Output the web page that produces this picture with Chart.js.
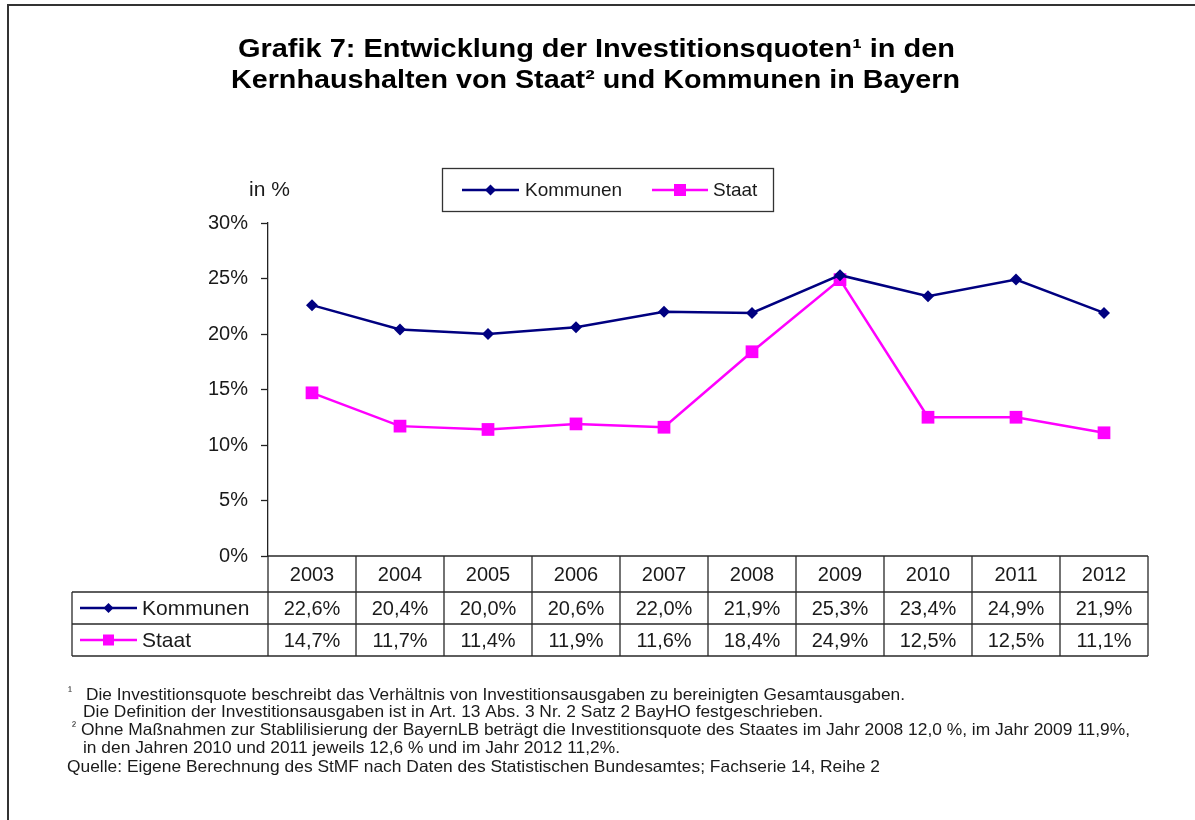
<!DOCTYPE html>
<html><head><meta charset="utf-8">
<script src="https://cdn.jsdelivr.net/npm/chart.js@4.4.1/dist/chart.umd.min.js"></script>
<style>html,body{margin:0;padding:0;background:#fff}canvas{display:block}</style>
</head><body>
<canvas id="c" width="1195" height="820"></canvas>
<script>
const years = ['2003','2004','2005','2006','2007','2008','2009','2010','2011','2012'];
const kommunen = [22.6,20.4,20.0,20.6,22.0,21.9,25.3,23.4,24.9,21.9];
const staat = [14.7,11.7,11.4,11.9,11.6,18.4,24.9,12.5,12.5,11.1];
const kommunenLabels = ['22,6%','20,4%','20,0%','20,6%','22,0%','21,9%','25,3%','23,4%','24,9%','21,9%'];
const staatLabels = ['14,7%','11,7%','11,4%','11,9%','11,6%','18,4%','24,9%','12,5%','12,5%','11,1%'];
const seriesNames = ['Kommunen','Staat'];
const titleLines = ['Grafik 7: Entwicklung der Investitionsquoten¹ in den','Kernhaushalten von Staat² und Kommunen in Bayern'];
const yUnit = 'in %';
const footnotes = [
  {t:'¹', x:68, y:695, w:null},
  {t:'Die Investitionsquote beschreibt das Verhältnis von Investitionsausgaben zu bereinigten Gesamtausgaben.', x:86, y:695, w:819},
  {t:'Die Definition der Investitionsausgaben ist in Art. 13 Abs. 3 Nr. 2 Satz 2 BayHO festgeschrieben.', x:83, y:712, w:740},
  {t:'²', x:72, y:730, w:null},
  {t:'Ohne Maßnahmen zur Stablilisierung der BayernLB beträgt die Investitionsquote des Staates im Jahr 2008 12,0 %, im Jahr 2009 11,9%,', x:81, y:730, w:1049},
  {t:'in den Jahren 2010 und 2011 jeweils 12,6 % und im Jahr 2012 11,2%.', x:83, y:748, w:537},
  {t:'Quelle: Eigene Berechnung des StMF nach Daten des Statistischen Bundesamtes; Fachserie 14, Reihe 2', x:67, y:767, w:813}
];

const NAVY = '#000080', MAG = '#FF00FF', TXT = '#1a1a1a', LINE = '#2a2a2a';
const FONT = '"Liberation Sans", Arial, sans-serif';

function fitText(ctx, text, x, y, w){
  const m = ctx.measureText(text).width;
  ctx.save();
  ctx.translate(x, y);
  if (w) ctx.scale(w / m, 1);
  ctx.fillText(text, 0, 0);
  ctx.restore();
}
function diamond(ctx, x, y, r, c){
  ctx.fillStyle = c; ctx.beginPath();
  ctx.moveTo(x, y - r); ctx.lineTo(x + r, y); ctx.lineTo(x, y + r); ctx.lineTo(x - r, y); ctx.closePath(); ctx.fill();
}
function square(ctx, x, y, s, c){ ctx.fillStyle = c; ctx.fillRect(x - s/2, y - s/2, s, s); }
function legendSample(ctx, x1, x2, y, idx, big){
  ctx.strokeStyle = idx === 0 ? NAVY : MAG; ctx.lineWidth = 2.5;
  ctx.beginPath(); ctx.moveTo(x1, y); ctx.lineTo(x2, y); ctx.stroke();
  const cx = (x1 + x2) / 2;
  if (idx === 0) diamond(ctx, cx, y, big ? 5.5 : 5, NAVY); else square(ctx, cx, y, big ? 12 : 11, MAG);
}

const decor = {
  id: 'decor',
  afterDraw(chart){
    const ctx = chart.ctx, xs = chart.scales.x, ys = chart.scales.y, ca = chart.chartArea;
    ctx.save();
    // frame
    ctx.strokeStyle = '#333'; ctx.lineWidth = 2;
    ctx.beginPath(); ctx.moveTo(8, 820); ctx.lineTo(8, 5); ctx.lineTo(1195, 5); ctx.stroke();
    // title
    ctx.fillStyle = '#000'; ctx.textBaseline = 'middle'; ctx.textAlign = 'left';
    ctx.font = 'bold 25px ' + FONT;
    fitText(ctx, titleLines[0], 238, 50, 717);
    fitText(ctx, titleLines[1], 231, 81, 729);
    // unit
    ctx.font = '21px ' + FONT; ctx.fillStyle = TXT;
    ctx.fillText(yUnit, 249, 190);
    // legend box
    ctx.strokeStyle = '#333'; ctx.lineWidth = 1.3;
    ctx.strokeRect(442.5, 168.5, 331, 43);
    legendSample(ctx, 462, 519, 190, 0, true);
    legendSample(ctx, 652, 708, 190, 1, true);
    ctx.font = '19px ' + FONT; ctx.fillStyle = TXT;
    ctx.fillText(seriesNames[0], 525, 191);
    ctx.fillText(seriesNames[1], 713, 191);
    // table
    const n = years.length;
    const colW = (ca.right - ca.left) / n;
    const y0 = ys.getPixelForValue(0);
    const rowH = [36, 32, 32];
    const r1 = y0 + rowH[0], r2 = r1 + rowH[1], r3 = r2 + rowH[2];
    const tLeft = 72;
    ctx.strokeStyle = LINE; ctx.lineWidth = 1.3;
    ctx.beginPath();
    ctx.moveTo(ca.left, y0); ctx.lineTo(ca.right, y0);
    ctx.moveTo(tLeft, r1); ctx.lineTo(ca.right, r1);
    ctx.moveTo(tLeft, r2); ctx.lineTo(ca.right, r2);
    ctx.moveTo(tLeft, r3); ctx.lineTo(ca.right, r3);
    ctx.moveTo(tLeft, r1); ctx.lineTo(tLeft, r3);
    for (let i = 0; i <= n; i++){
      const x = ca.left + i * colW;
      ctx.moveTo(x, y0); ctx.lineTo(x, r3);
    }
    ctx.stroke();
    ctx.font = '20px ' + FONT; ctx.fillStyle = TXT; ctx.textAlign = 'center';
    for (let i = 0; i < n; i++){
      const cx = xs.getPixelForValue(i);
      ctx.fillText(years[i], cx, y0 + rowH[0] / 2 + 1);
      ctx.fillText(kommunenLabels[i], cx, r1 + rowH[1] / 2 + 1);
      ctx.fillText(staatLabels[i], cx, r2 + rowH[2] / 2 + 1);
    }
    ctx.textAlign = 'left';
    legendSample(ctx, 80, 137, r1 + rowH[1] / 2, 0, false);
    legendSample(ctx, 80, 137, r2 + rowH[2] / 2, 1, false);
    ctx.font = '21px ' + FONT; ctx.fillStyle = TXT;
    ctx.fillText(seriesNames[0], 142, r1 + rowH[1] / 2 + 1);
    ctx.fillText(seriesNames[1], 142, r2 + rowH[2] / 2 + 1);
    // footnotes
    ctx.fillStyle = TXT;
    footnotes.forEach(f => {
      if (f.w === null){ ctx.font = '12px ' + FONT; ctx.fillText(f.t, f.x, f.y - 3); }
      else { ctx.font = '16.5px ' + FONT; fitText(ctx, f.t, f.x, f.y, f.w); }
    });
    ctx.restore();
  }
};

new Chart(document.getElementById('c'), {
  type: 'line',
  data: {
    labels: years,
    datasets: [
      {label: seriesNames[0], data: kommunen, borderColor: NAVY, backgroundColor: NAVY, borderWidth: 2.5,
       pointStyle: 'rectRot', pointRadius: 6, pointHoverRadius: 6, pointBorderWidth: 0, tension: 0},
      {label: seriesNames[1], data: staat, borderColor: MAG, backgroundColor: MAG, borderWidth: 2.5,
       pointStyle: 'rect', pointRadius: 9, pointHoverRadius: 9, pointBorderWidth: 0, tension: 0}
    ]
  },
  options: {
    responsive: false, animation: false, devicePixelRatio: 1,
    layout: {padding: {top: 223, bottom: 264, left: 0, right: 47}},
    plugins: {legend: {display: false}, title: {display: false}, tooltip: {enabled: false}},
    scales: {
      x: {type: 'category', offset: true, display: false},
      y: {
        min: 0, max: 30,
        ticks: {stepSize: 5, callback: v => v + '%', color: TXT, font: {family: FONT, size: 20}, padding: 13},
        grid: {drawOnChartArea: false, drawTicks: true, tickLength: 7, color: '#222', tickWidth: 1.3},
        border: {display: true, color: '#222', width: 1.3},
        afterFit: s => { s.width = 268; }
      }
    }
  },
  plugins: [decor]
});
</script>
</body></html>
